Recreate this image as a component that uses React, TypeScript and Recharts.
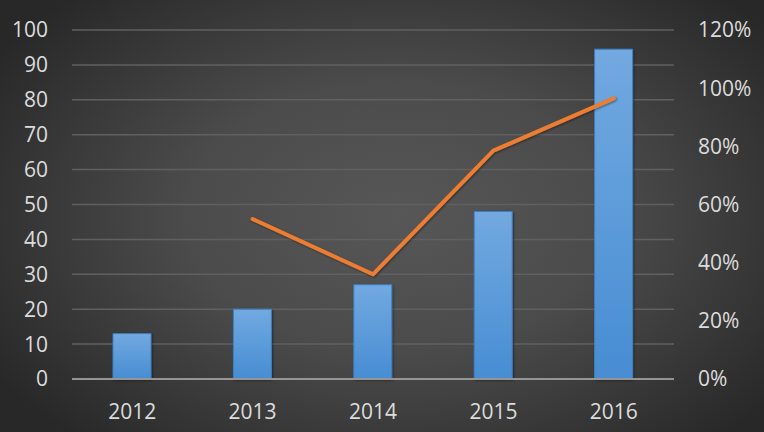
import React from "react";
import { ComposedChart, Bar, Line, XAxis, YAxis, CartesianGrid } from "recharts";

const years = ["2012", "2013", "2014", "2015", "2016"];
const barValues = [13, 20, 27, 48, 94.5];
const growthPct = [null, 55, 36, 78.5, 96.5];
const leftTicks = [0, 10, 20, 30, 40, 50, 60, 70, 80, 90, 100];
const rightTicks = [0, 20, 40, 60, 80, 100, 120];

const data = years.map((y, i) => ({ year: y, value: barValues[i], growth: growthPct[i] }));

const FONT = "'Open Sans', 'DejaVu Sans', sans-serif";
const tickStyle = { fill: "#dcdcdc", fontSize: 21, fontFamily: FONT };

export default function App() {
  return (
    <div
      style={{
        position: "absolute",
        left: 0,
        top: 0,
        width: 764,
        height: 432,
        background:
          "radial-gradient(ellipse 62% 70% at 52% 50%, #575757 0%, #4b4b4b 45%, #383838 75%, #282828 100%)",
      }}
    >
      <ComposedChart
        width={764}
        height={432}
        data={data}
        margin={{ top: 30, right: 0, bottom: 0, left: 0 }}
        barCategoryGap="34%"
      >
        <defs>
          <linearGradient id="barGrad" x1="0" y1="0" x2="0" y2="1">
            <stop offset="0%" stopColor="#72a9e0" />
            <stop offset="100%" stopColor="#478dd3" />
          </linearGradient>
          <filter id="shadow" x="-20%" y="-20%" width="140%" height="140%">
            <feDropShadow dx="1" dy="1" stdDeviation="1.2" floodColor="#000" floodOpacity="0.45" />
          </filter>
        </defs>
        <CartesianGrid vertical={false} stroke="#606060" strokeWidth={1.5} yAxisId="left" />
        <XAxis
          dataKey="year"
          axisLine={{ stroke: "#959595", strokeWidth: 2 }}
          tickLine={false}
          tickSize={0}
          tickMargin={25}
          height={53}
          tick={tickStyle}
          interval={0}
        />
        <YAxis
          yAxisId="left"
          orientation="left"
          domain={[0, 100]}
          ticks={leftTicks}
          width={72}
          axisLine={false}
          tickLine={false}
          tickSize={0}
          tickMargin={24}
          tick={tickStyle}
          interval={0}
        />
        <YAxis
          yAxisId="right"
          orientation="right"
          domain={[0, 120]}
          ticks={rightTicks}
          width={90}
          axisLine={false}
          tickLine={false}
          tickSize={0}
          tickMargin={24}
          tick={tickStyle}
          tickFormatter={(v) => `${v}%`}
          interval={0}
        />
        <Bar
          yAxisId="left"
          dataKey="value"
          barSize={38}
          fill="url(#barGrad)"
          stroke="#3f7fc2"
          strokeWidth={1}
          filter="url(#shadow)"
          isAnimationActive={false}
        />
        <Line
          yAxisId="right"
          dataKey="growth"
          type="linear"
          stroke="#ed7d31"
          strokeWidth={4}
          strokeLinecap="round"
          strokeLinejoin="round"
          dot={false}
          activeDot={false}
          connectNulls={false}
          filter="url(#shadow)"
          isAnimationActive={false}
        />
      </ComposedChart>
    </div>
  );
}
